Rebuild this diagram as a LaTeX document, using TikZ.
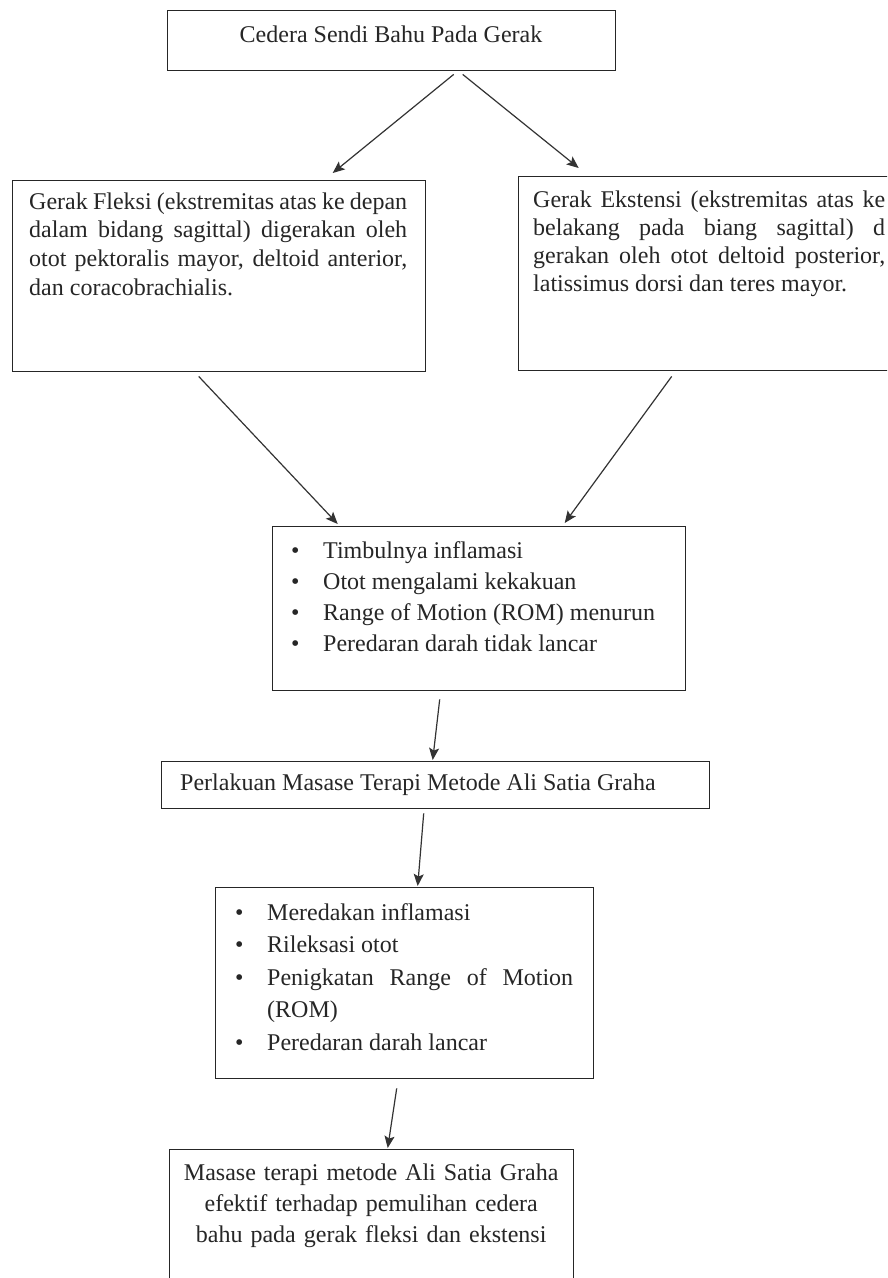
\documentclass[tikz,border=0pt]{standalone}
\usepackage{fontspec}
\setmainfont{Liberation Serif}
\usetikzlibrary{arrows.meta}
\newcommand\myfont[1]{\fontsize{24pt}{#1}\selectfont\tolerance=10000 \hbadness=10000 \hyphenpenalty=10000 \exhyphenpenalty=10000 }
\newcommand\bul{\llap{\makebox[32pt][l]{•}}}
\tikzset{
  boxnode/.style={draw=black!85, line width=1.4pt, rectangle, inner sep=0pt, anchor=north west},
  txt/.style={inner sep=0pt, anchor=base west, text=black!85},
  arr/.style={draw=black!80, line width=1.2pt, -{Stealth[length=12pt,width=10pt,inset=2.5pt]}}
}
\begin{document}
\begin{tikzpicture}[x=1pt,y=-1pt]
\path[use as bounding box, clip] (0,0) rectangle (887,1278);
\fill[white] (0,0) rectangle (887,1278);
% boxes
\node[boxnode, minimum width=448pt, minimum height=60pt] (b1) at (167,10) {};
\node[boxnode, minimum width=413pt, minimum height=191pt] (b2) at (12,180) {};
\node[boxnode, minimum width=387pt, minimum height=194pt] (b3) at (518,176) {};
\node[boxnode, minimum width=413pt, minimum height=164pt] (b4) at (272,526) {};
\node[boxnode, minimum width=548pt, minimum height=47pt] (b5) at (161,761) {};
\node[boxnode, minimum width=378pt, minimum height=191pt] (b6) at (215,887) {};
\node[boxnode, minimum width=404pt, minimum height=160pt] (b7) at (169,1149) {};
% texts
\node[txt, anchor=base, font=\myfont{28pt}] (t1) at (391,42) {Cedera Sendi Bahu Pada Gerak};
\node[txt, text width=378pt, align=justify, font=\myfont{28.7pt}] (t2) at (29,209)
  {Gerak Fleksi (ekstremitas atas ke depan\linebreak dalam bidang sagittal) digerakan oleh\linebreak otot pektoralis mayor, deltoid anterior,\linebreak dan coracobrachialis.};
\node[txt, text width=352pt, align=justify, font=\myfont{28pt}] (t3) at (533,207)
  {Gerak Ekstensi (ekstremitas atas ke\linebreak belakang pada biang sagittal) d\linebreak gerakan oleh otot deltoid posterior,\linebreak latissimus dorsi dan teres mayor.};
\node[txt, text width=340pt, align=justify, font=\myfont{31.3pt}] (t4) at (323,558)
  {\bul Timbulnya inflamasi\\ \bul Otot mengalami kekakuan\\ \bul Range of Motion (ROM) menurun\\ \bul Peredaran darah tidak lancar};
\node[txt, font=\myfont{28pt}] (t5) at (180,790) {Perlakuan Masase Terapi Metode Ali Satia Graha};
\node[txt, text width=306pt, align=justify, font=\myfont{32.5pt}] (t6) at (267,920)
  {\bul Meredakan inflamasi\\ \bul Rileksasi otot\\ \bul Penigkatan Range of Motion\linebreak (ROM)\\ \bul Peredaran darah lancar};
\node[txt, text width=404pt, align=center, font=\myfont{31pt}] (t7) at (169,1180)
  {Masase terapi metode Ali Satia Graha\\ efektif terhadap pemulihan cedera\\ bahu pada gerak fleksi dan ekstensi};
% connectors
\draw[arr] ([xshift=62pt,yshift=-3pt]b1.south) -- ([xshift=113.5pt,yshift=7pt]b2.north);
\draw[arr] ([xshift=71pt,yshift=-3pt]b1.south) -- ([xshift=-133.5pt,yshift=8pt]b3.north);
\draw[arr] ([xshift=-20.5pt,yshift=-4pt]b2.south) -- ([xshift=-141.5pt,yshift=2pt]b4.north);
\draw[arr] ([xshift=-40.5pt,yshift=-5pt]b3.south) -- ([xshift=85.5pt,yshift=3pt]b4.north);
\draw[arr] ([xshift=-39.5pt,yshift=-8pt]b4.south) -- ([xshift=-3pt,yshift=1pt]b5.north);
\draw[arr] ([xshift=-12pt,yshift=-4pt]b5.south) -- ([xshift=13pt,yshift=1pt]b6.north);
\draw[arr] ([xshift=-8pt,yshift=-9pt]b6.south) -- ([xshift=16pt,yshift=1pt]b7.north);
\end{tikzpicture}
\end{document}
